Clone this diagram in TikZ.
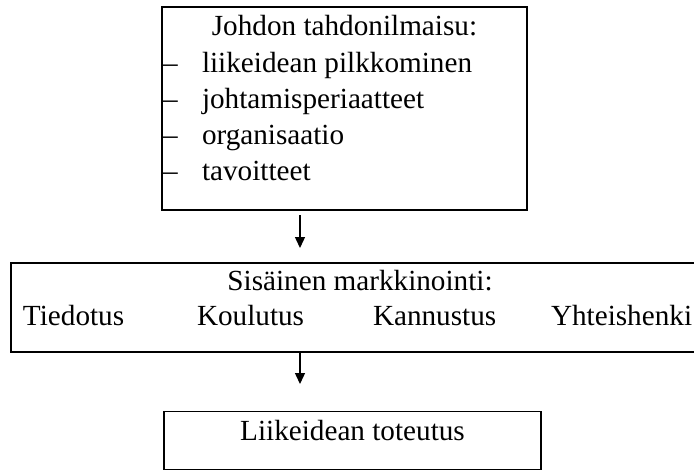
\documentclass[tikz,border=0pt]{standalone}
\usepackage{fontspec}
\setmainfont{Liberation Serif}
\usetikzlibrary{arrows.meta}
\begin{document}
\begin{tikzpicture}[x=1pt,y=-1pt,
  boxstyle/.style={draw,line width=1.6pt,inner sep=0pt,outer sep=0pt},
  txt/.style={inner sep=0pt,outer sep=0pt,font=\fontsize{29.2}{36}\selectfont},
  arr/.style={line width=1.4pt,-{Triangle[width=10pt,length=11pt]}}]
\useasboundingbox (0,0) rectangle (694,471);
\clip (0,0) rectangle (694,471);
\node[boxstyle,minimum width=365pt,minimum height=203pt] (top) at (344.5,108.5) {};
\node[boxstyle,minimum width=698pt,minimum height=89pt] (mid) at (360,307.5) {};
\node[boxstyle,minimum width=377pt,minimum height=58pt] (bot) at (352.5,440.5) {};
% top box text
\node[txt,anchor=base] (t0) at (344.5,35) {Johdon tahdonilmaisu:};
\node[txt,anchor=base west] (d1) at (163,72) {–};
\node[txt,anchor=base west] (d2) at (163,108) {–};
\node[txt,anchor=base west] (d3) at (163,144) {–};
\node[txt,anchor=base west] (d4) at (163,180) {–};
\node[txt,anchor=base west] (t1) at (202,72) {liikeidean pilkkominen};
\node[txt,anchor=base west] (t2) at (202,108) {johtamisperiaatteet};
\node[txt,anchor=base west] (t3) at (202,144) {organisaatio};
\node[txt,anchor=base west] (t4) at (202,180) {tavoitteet};
% middle box text
\node[txt,anchor=base] (m0) at (360,290) {Sisäinen markkinointi:};
\node[txt,anchor=base west] (m1) at (23,325) {Tiedotus};
\node[txt,anchor=base west] (m2) at (197,325) {Koulutus};
\node[txt,anchor=base west] (m3) at (373,325) {Kannustus};
\node[txt,anchor=base west] (m4) at (551,325) {Yhteishenki};
% bottom box text
\node[txt,anchor=base] (b0) at (352.5,440) {Liikeidean toteutus};
% arrows
\coordinate (a1s) at (300,215);
\coordinate (a1e) at (300,248);
\coordinate (a2s) at (300,353);
\coordinate (a2e) at (300,384);
\draw[arr] (a1s) -- (a1e);
\draw[arr] (a2s) -- (a2e);
\end{tikzpicture}
\end{document}
